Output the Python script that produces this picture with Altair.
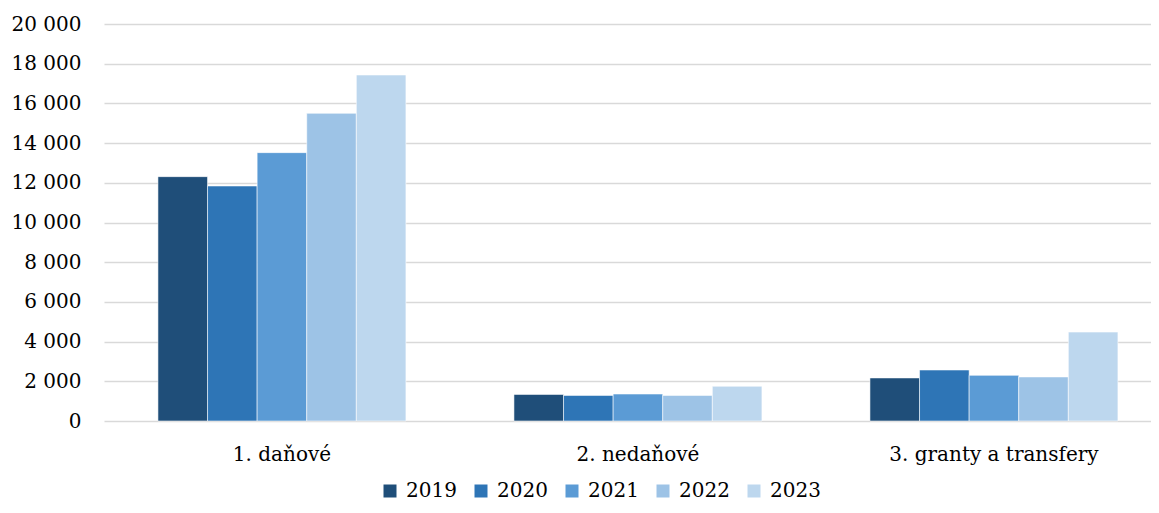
import altair as alt
import pandas as pd

categories = ["1. daňové", "2. nedaňové", "3. granty a transfery"]
years = ["2019", "2020", "2021", "2022", "2023"]
danove = [12310, 11840, 13520, 15500, 17430]
nedanove = [1340, 1290, 1360, 1290, 1750]
granty = [2170, 2570, 2300, 2220, 4480]
colors = ["#1F4E79", "#2E75B6", "#5B9BD5", "#9DC3E6", "#BDD7EE"]

rows = []
for cat, vals in zip(categories, [danove, nedanove, granty]):
    for y, v in zip(years, vals):
        rows.append({"kat": cat, "rok": y, "hodnota": v})
df = pd.DataFrame(rows)

FONT = "DejaVu Serif"

chart = alt.Chart(df).mark_bar(stroke="#ffffff", strokeWidth=0.8, strokeOpacity=0.7).encode(
    x=alt.X("kat:N", sort=categories, title=None,
            scale=alt.Scale(paddingInner=0.3034, paddingOuter=0.1222, align=0.62),
            axis=alt.Axis(labelAngle=0, domain=False, ticks=False, labelPadding=23,
                          labelLimit=400,
                          labelFontSize=20, labelFont=FONT, labelColor="#000000")),
    xOffset=alt.XOffset("rok:N", sort=years, scale=alt.Scale(paddingInner=0, paddingOuter=0)),
    y=alt.Y("hodnota:Q", title=None,
            scale=alt.Scale(domain=[0, 20000], nice=False),
            axis=alt.Axis(values=list(range(0, 20001, 2000)),
                          labelExpr="replace(format(datum.value, ','), ',', ' ')",
                          domain=False, ticks=False, labelPadding=23,
                          gridColor="#d9d9d9", gridWidth=1.5,
                          labelFontSize=20, labelFont=FONT, labelColor="#000000")),
    color=alt.Color("rok:N", sort=years, scale=alt.Scale(domain=years, range=colors),
                    legend=alt.Legend(title=None, orient="none", direction="horizontal",
                                      legendX=276, legendY=457,
                                      symbolType="square", symbolSize=169,
                                      symbolStrokeWidth=0, labelFontSize=20,
                                      labelFont=FONT, labelColor="#000000",
                                      labelOffset=6, columnPadding=14,
                                      columns=5)),
).properties(
    width=1047, height=397,
    autosize=alt.AutoSizeParams(type="none"),
    padding={"left": 96, "top": 16, "right": 0, "bottom": 85},
).configure_view(stroke=None)

chart.save("out.html", embed_options={"renderer": "svg", "actions": False})
